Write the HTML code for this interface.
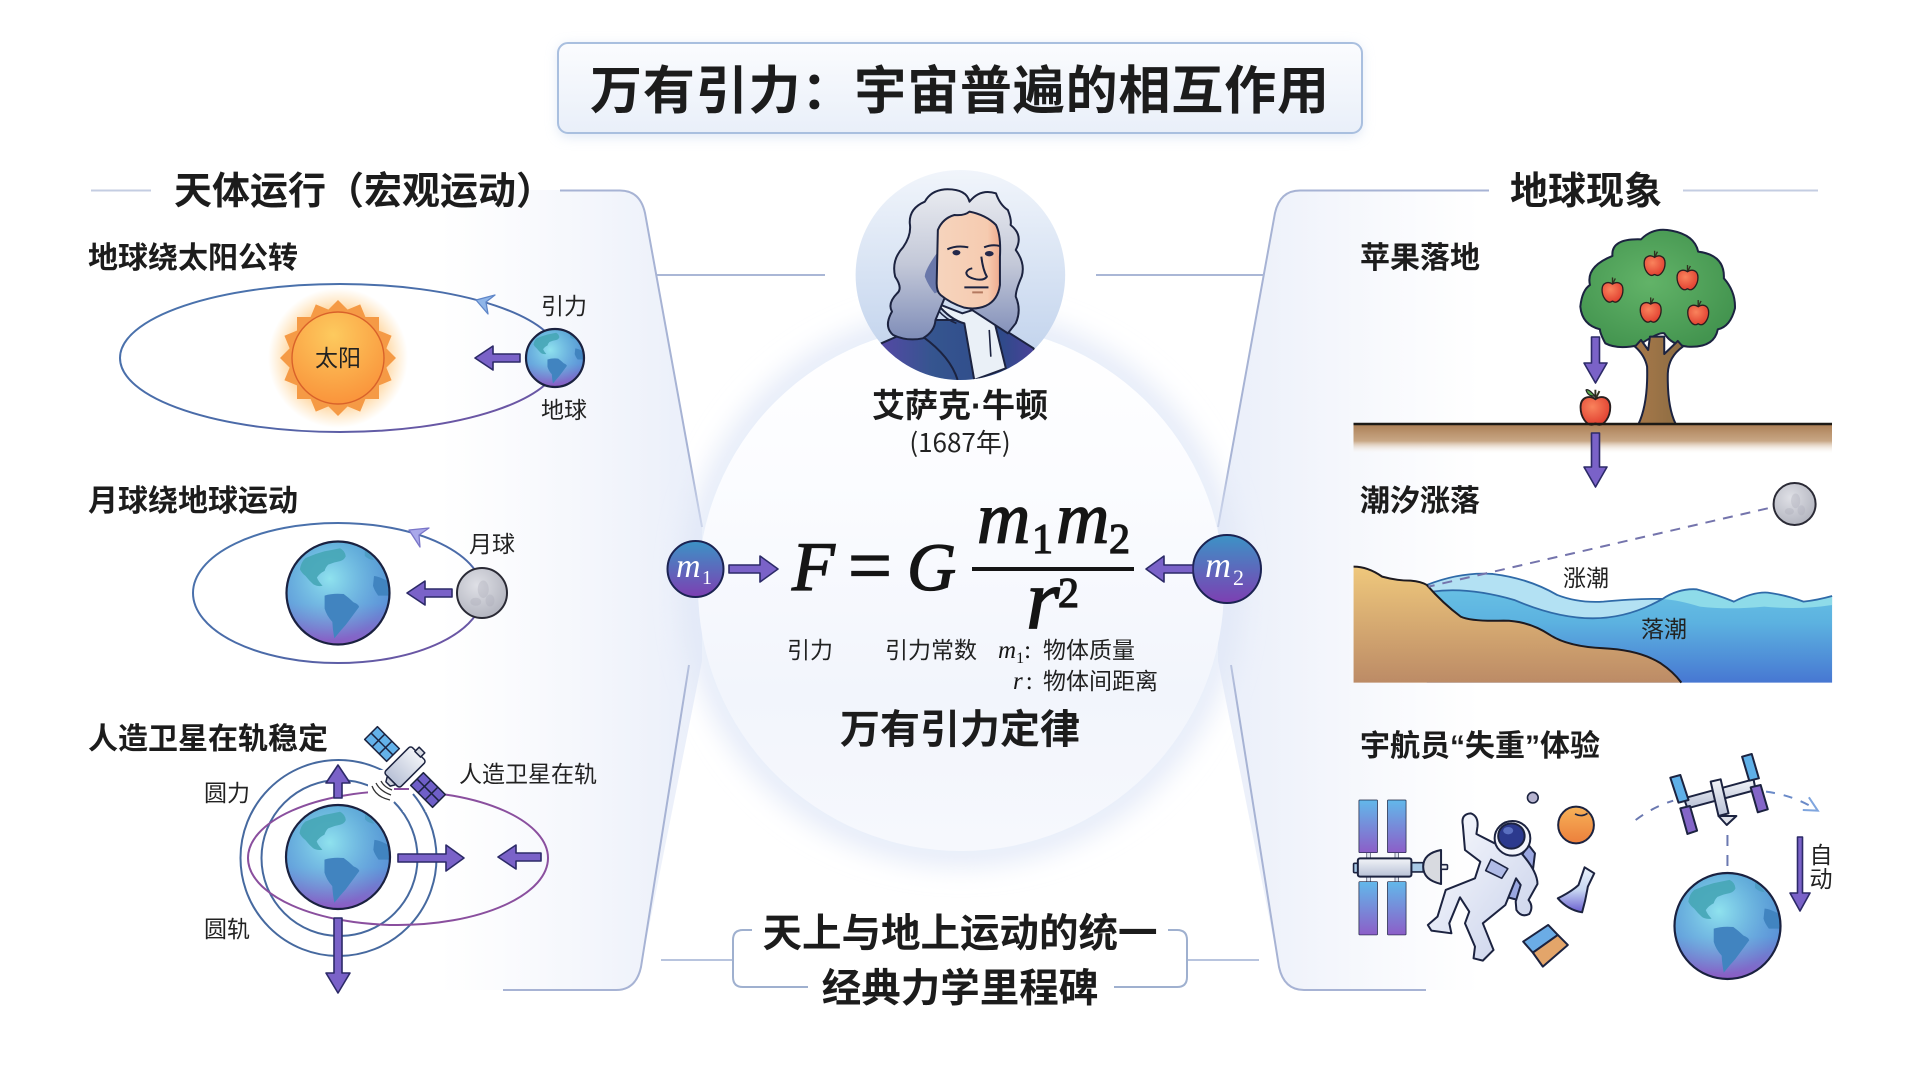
<!DOCTYPE html>
<html lang="zh">
<head>
<meta charset="utf-8">
<title>万有引力：宇宙普遍的相互作用</title>
<style>
html,body{margin:0;padding:0;background:#fff;width:1920px;height:1072px;overflow:hidden}
svg{display:block}
text{font-family:"Liberation Sans","Noto Sans CJK SC",sans-serif;fill:#222}
.cjk{font-family:"Noto Sans CJK SC","Liberation Sans",sans-serif}
.lat{font-family:"Liberation Sans",sans-serif}
.b{font-weight:700;fill:#1c1c1c}
.l{font-size:23px}
.h2{font-size:30px;font-weight:700;fill:#1c1c1c}
.s{font-family:"Liberation Serif",serif;fill:#151515}
.i{font-style:italic}
.ar{fill:#7a62c8;stroke:#2c2a68;stroke-width:1.6;stroke-linejoin:round}
.o{stroke:#1c2340;fill:none;stroke-width:2;vector-effect:non-scaling-stroke}
.k{stroke:#1c2340;stroke-width:2;vector-effect:non-scaling-stroke;stroke-linejoin:round}
.k1{stroke:#1c2340;stroke-width:1.6;vector-effect:non-scaling-stroke;stroke-linejoin:round}
</style>
</head>
<body>
<svg width="1920" height="1072" viewBox="0 0 1920 1072" xmlns="http://www.w3.org/2000/svg">
<defs>
<linearGradient id="pL" gradientUnits="userSpaceOnUse" x1="440" y1="0" x2="705" y2="0"><stop offset="0" stop-color="#eef1fa" stop-opacity="0"/><stop offset="1" stop-color="#e9eef9"/></linearGradient>
<linearGradient id="pR" gradientUnits="userSpaceOnUse" x1="1480" y1="0" x2="1215" y2="0"><stop offset="0" stop-color="#eef1fa" stop-opacity="0"/><stop offset="1" stop-color="#e9eef9"/></linearGradient>
<linearGradient id="cF" x1="0" y1="0" x2="0" y2="1"><stop offset="0" stop-color="#fff"/><stop offset=".3" stop-color="#fbfcff"/><stop offset=".7" stop-color="#f2f5fc"/><stop offset="1" stop-color="#f6f8fd"/></linearGradient>
<linearGradient id="tF" x1="0" y1="0" x2="0" y2="1"><stop offset="0" stop-color="#fbfcfe"/><stop offset="1" stop-color="#e9eff9"/></linearGradient>
<filter id="bl" x="-30%" y="-30%" width="160%" height="160%"><feGaussianBlur stdDeviation="14"/></filter>
<filter id="bs" x="-10%" y="-40%" width="120%" height="180%"><feGaussianBlur stdDeviation="6"/></filter>
<linearGradient id="orb" x1="0" y1="0" x2="1" y2="1"><stop offset="0" stop-color="#4a74ad"/><stop offset=".6" stop-color="#4a6aa8"/><stop offset="1" stop-color="#7d4aa2"/></linearGradient>
<radialGradient id="sunG"><stop offset=".6" stop-color="#ffb14d" stop-opacity=".7"/><stop offset="1" stop-color="#ffc56e" stop-opacity="0"/></radialGradient>
<radialGradient id="sunD" cx=".45" cy=".25" r=".85"><stop offset="0" stop-color="#fdca5e"/><stop offset="1" stop-color="#f98d37"/></radialGradient>
<linearGradient id="eB" x1="0" y1="0" x2="0" y2="1"><stop offset="0" stop-color="#4f97d0"/><stop offset=".6" stop-color="#5c93d8"/><stop offset="1" stop-color="#8c5cc4"/></linearGradient>
<radialGradient id="eL" cx=".42" cy=".36" r=".6"><stop offset="0" stop-color="#8fe2ee"/><stop offset="1" stop-color="#7bcce8" stop-opacity="0"/></radialGradient>
<clipPath id="eC"><circle r="100"/></clipPath>
<g id="earth">
<circle r="100" fill="url(#eB)"/>
<circle r="100" fill="url(#eL)"/>
<g clip-path="url(#eC)">
<path d="M-74 -46 Q-72 -60 -63 -68 Q-45 -76 -26 -81 Q-10 -84 4 -87 Q14 -82 15 -71 Q12 -64 4 -62 Q-8 -60 -19 -55 Q-24 -50 -26 -43 Q-36 -38 -41 -30 Q-38 -22 -30 -14 Q-40 -12 -48 -17 Q-56 -24 -63 -33 Q-70 -38 -74 -46Z" fill="#46a6b6" opacity=".9"/>
<path d="M-26 5 Q-10 0 11 2 Q22 10 30 18 Q40 22 41 27 Q30 42 15 62 Q4 74 -7 88 Q-10 74 -11 56 Q-22 44 -26 30 Z" fill="#4184c0"/>
<path d="M70 -33 Q82 -32 102 -20 L102 5 L78 5 Q70 -6 68 -14Z" fill="#4184c0"/>
<path d="M52 -84 Q62 -78 70 -64 Q60 -64 52 -72 Z" fill="#4a9cc0" opacity=".8"/>
</g>
<circle r="100" fill="none" stroke="#1a2140" stroke-width="2.2" vector-effect="non-scaling-stroke"/>
</g>
<radialGradient id="mG" cx=".4" cy=".35" r=".75"><stop offset="0" stop-color="#dfe0e6"/><stop offset="1" stop-color="#aeb0bb"/></radialGradient>
<g id="moon">
<circle r="100" fill="url(#mG)" stroke="#2a2a35" stroke-width="2" vector-effect="non-scaling-stroke"/>
<ellipse cx="5" cy="-15" rx="22" ry="35" fill="#a4a6b2" opacity=".3"/>
<ellipse cx="-25" cy="35" rx="22" ry="16" fill="#a4a6b2" opacity=".3"/>
<ellipse cx="32" cy="30" rx="18" ry="24" fill="#a4a6b2" opacity=".28"/>
</g>
<linearGradient id="mm" x1="0" y1="0" x2="0" y2="1"><stop offset="0" stop-color="#3c93c6"/><stop offset="1" stop-color="#7d3fb2"/></linearGradient>
<linearGradient id="face" x1="0" y1="0" x2="1" y2="0"><stop offset="0" stop-color="#f6d4bd"/><stop offset=".8" stop-color="#f6cbb0"/><stop offset="1" stop-color="#efab8e"/></linearGradient>
<linearGradient id="hair" x1="0" y1="0" x2="0" y2="1"><stop offset="0" stop-color="#e9ebf0"/><stop offset=".5" stop-color="#c3c8d8"/><stop offset="1" stop-color="#7f8db8"/></linearGradient>
<linearGradient id="pbg" x1="0" y1="0" x2="0" y2="1"><stop offset="0" stop-color="#f1f5fb"/><stop offset="1" stop-color="#bccfeb"/></linearGradient>
<linearGradient id="coat" x1="0" y1="0" x2="1" y2="0"><stop offset="0" stop-color="#5a46a8"/><stop offset=".35" stop-color="#35558f"/><stop offset=".75" stop-color="#2f4a8a"/><stop offset="1" stop-color="#533f9e"/></linearGradient>
<clipPath id="pcl"><ellipse cx="785" cy="345" rx="265" ry="315"/></clipPath>
<radialGradient id="crown" cx=".45" cy=".45" r=".6"><stop offset="0" stop-color="#62b368"/><stop offset="1" stop-color="#43944f"/></radialGradient>
<linearGradient id="trunk" x1="0" y1="0" x2="1" y2="0"><stop offset="0" stop-color="#a8794a"/><stop offset="1" stop-color="#8b6c42"/></linearGradient>
<radialGradient id="apG" cx=".4" cy=".35" r=".7"><stop offset="0" stop-color="#f9835c"/><stop offset="1" stop-color="#e03c2e"/></radialGradient>
<g id="apple">
<path d="M0 -15 Q0 -11 0 -8" stroke="#30301f" stroke-width="1.4" fill="none"/>
<path d="M0 -8 L3 -14" stroke="#30301f" stroke-width="1.4" fill="none"/>
<path d="M0 -8 C-4 -11 -11 -10 -11 -2 C-11 6 -6 11 -3 11 C-1 11 -1 10 0 10 C1 10 1 11 3 11 C6 11 11 6 11 -2 C11 -10 4 -11 0 -8Z" fill="url(#apG)" stroke="#2a1f1f" stroke-width="1.4"/>
</g>
<linearGradient id="gnd" x1="0" y1="0" x2="0" y2="1"><stop offset="0" stop-color="#ad8158"/><stop offset=".55" stop-color="#c8a785"/><stop offset="1" stop-color="#fff" stop-opacity="0"/></linearGradient>
<linearGradient id="sand" x1="0" y1="0" x2="0" y2="1"><stop offset="0" stop-color="#efc87c"/><stop offset="1" stop-color="#bc8b66"/></linearGradient>
<linearGradient id="water" x1="0" y1="0" x2="0" y2="1"><stop offset="0" stop-color="#6cc6e6"/><stop offset=".45" stop-color="#5cb2e0"/><stop offset="1" stop-color="#4777d2"/></linearGradient>
<linearGradient id="pan" x1="0" y1="0" x2="0" y2="1"><stop offset="0" stop-color="#62b8ea"/><stop offset="1" stop-color="#8c5ec8"/></linearGradient>
<linearGradient id="gray" x1="0" y1="0" x2="0" y2="1"><stop offset="0" stop-color="#f2f4f8"/><stop offset="1" stop-color="#b8c1d6"/></linearGradient>
<linearGradient id="suit" x1="0" y1="0" x2="1" y2="1"><stop offset="0" stop-color="#fbfcff"/><stop offset="1" stop-color="#c6cfe9"/></linearGradient>
<linearGradient id="orange" x1="0" y1="0" x2="0" y2="1"><stop offset="0" stop-color="#f7b258"/><stop offset="1" stop-color="#ec7f3c"/></linearGradient>
<linearGradient id="flask" x1="0" y1="0" x2="0" y2="1"><stop offset="0" stop-color="#eaf2fb"/><stop offset=".5" stop-color="#c8d8f2"/><stop offset="1" stop-color="#6a5ed0"/></linearGradient>
</defs>

<rect width="1920" height="1072" fill="#fff"/>

<!-- panels -->
<path d="M440 190H620Q640 190 645 213L702 527V661L641 967Q636 990 616 990H440Z" fill="url(#pL)"/>
<path d="M1480 190H1300Q1280 190 1275 213L1218 527V661L1279 967Q1284 990 1304 990H1480Z" fill="url(#pR)"/>
<path d="M560 190.5H620Q640 190.5 645 213L702 527" fill="none" stroke="#a7b3d4" stroke-width="2"/>
<path d="M689 665L641 967Q636 990 616 990H503" fill="none" stroke="#a7b3d4" stroke-width="2"/>
<path d="M1489 190.5H1300Q1280 190.5 1275 213L1218 527" fill="none" stroke="#a7b3d4" stroke-width="2"/>
<path d="M1231 665L1279 967Q1284 990 1304 990H1426" fill="none" stroke="#a7b3d4" stroke-width="2"/>
<line x1="91" y1="190.5" x2="151" y2="190.5" stroke="#c4cde2" stroke-width="2"/>
<line x1="1683" y1="190.5" x2="1818" y2="190.5" stroke="#c4cde2" stroke-width="2"/>
<line x1="657" y1="275" x2="825" y2="275" stroke="#aab7d6" stroke-width="2"/>
<line x1="1096" y1="275" x2="1264" y2="275" stroke="#aab7d6" stroke-width="2"/>
<line x1="661" y1="960" x2="733" y2="960" stroke="#b8c4de" stroke-width="2"/>
<line x1="1187" y1="960" x2="1259" y2="960" stroke="#b8c4de" stroke-width="2"/>

<!-- central circle -->
<circle cx="961" cy="588" r="263" fill="none" stroke="#e0e7f7" stroke-width="26" filter="url(#bl)"/>
<circle cx="961" cy="588" r="263" fill="url(#cF)"/>

<!-- title -->
<rect x="558" y="45" width="804" height="92" rx="10" fill="#c6d5ee" opacity=".55" filter="url(#bs)"/>
<rect x="558" y="43" width="804" height="90" rx="10" fill="url(#tF)" stroke="#a9bfdf" stroke-width="2"/>
<text x="590" y="109" class="b cjk" font-size="52" textLength="739">万有引力：宇宙普遍的相互作用</text>

<text x="174" y="204" class="b cjk" font-size="38">天体运行（宏观运动）</text>
<text x="1510" y="204" class="b cjk" font-size="38">地球现象</text>

<!-- Sun / earth -->
<text x="88" y="268" class="h2 cjk">地球绕太阳公转</text>
<ellipse cx="340" cy="358" rx="220" ry="74" fill="none" stroke="url(#orb)" stroke-width="2"/>
<circle cx="338" cy="358" r="70" fill="url(#sunG)"/>
<g fill="#f59a45">
<rect x="297" y="317" width="82" height="82"/>
<rect x="297" y="317" width="82" height="82" transform="rotate(22.5 338 358)"/>
<rect x="297" y="317" width="82" height="82" transform="rotate(45 338 358)"/>
<rect x="297" y="317" width="82" height="82" transform="rotate(67.5 338 358)"/>
</g>
<circle cx="338" cy="358" r="46" fill="url(#sunD)" stroke="#d9622a" stroke-width="1.4"/>
<text x="338" y="366" text-anchor="middle" class="l cjk">太阳</text>
<polygon points="476,300 495,295 486,302 488,314" fill="#8fb5e8" stroke="#5f86c8" stroke-width="1.3" stroke-linejoin="round"/>
<path class="ar" d="M520 354H493V346L475 358L493 370V362H520Z"/>
<use href="#earth" transform="translate(555 358) scale(.29)"/>
<text x="564" y="314" text-anchor="middle" class="l cjk">引力</text>
<text x="564" y="418" text-anchor="middle" class="l cjk">地球</text>

<!-- Moon / earth -->
<text x="88" y="511" class="h2 cjk">月球绕地球运动</text>
<ellipse cx="338" cy="593" rx="145" ry="70" fill="none" stroke="url(#orb)" stroke-width="2"/>
<use href="#earth" transform="translate(338 593) scale(.515)"/>
<polygon points="409,530 429,528 419,535 420,547" fill="#a9a8ea" stroke="#7a76c8" stroke-width="1.3" stroke-linejoin="round"/>
<path class="ar" d="M452 589H425V581L407 593L425 605V597H452Z"/>
<use href="#moon" transform="translate(482 593) scale(.25)"/>
<text x="492" y="552" text-anchor="middle" class="l cjk">月球</text>

<!-- Satellite -->
<text x="88" y="749" class="h2 cjk">人造卫星在轨稳定</text>
<circle cx="338.5" cy="858" r="98" fill="none" stroke="#46699f" stroke-width="2"/>
<circle cx="339.5" cy="858" r="78" fill="none" stroke="#46699f" stroke-width="2"/>
<ellipse cx="398" cy="858" rx="150" ry="67" fill="none" stroke="#8a4f9e" stroke-width="2"/>
<path d="M368 770L440 770L440 812L392 812L368 800Z" fill="#fff"/>
<line x1="394" y1="789" x2="409" y2="789" stroke="#8a4f9e" stroke-width="2"/>
<path d="M413 794A98 98 0 0 1 425 812" fill="none" stroke="#46699f" stroke-width="2"/>
<path d="M394 802A78 78 0 0 1 402.5 812" fill="none" stroke="#46699f" stroke-width="2"/>
<path d="M372 786Q376 797 390 800M376 783Q380 791 391 795M381 781Q384 787 392 790" fill="none" stroke="#333" stroke-width="1.3"/>
<use href="#earth" transform="translate(338 857) scale(.52)"/>
<path class="ar" d="M334 798V783H326L338 765L350 783H342V798Z"/>
<path class="ar" d="M334 918V973H326L338 993L350 973H342V918Z"/>
<path class="ar" d="M398 854H446V845L464 858L446 871V862H398Z"/>
<path class="ar" d="M541 853H516V845L498 857L516 869V861H541Z"/>
<g transform="translate(405 767) rotate(45)" stroke="#1c2340" stroke-width="1.5" stroke-linejoin="round">
<rect x="-48" y="-9" width="31" height="18" fill="#64b2ea"/>
<path d="M-37.500 -9V9M-27.500 -9V9M-48 0H-17" fill="none"/>
<rect x="17" y="-9" width="31" height="18" fill="#6f5fc8"/>
<path d="M27.500 -9V9M37.500 -9V9M17 0H48" fill="none"/>
<rect x="-11" y="-19" width="22" height="38" rx="3" fill="url(#gray)"/>
<rect x="-4" y="-24" width="8" height="6" fill="#d8dbe3"/>
<path d="M-6 19H6L3 24H-3Z" fill="#cfd3dd"/>
</g>
<text x="227" y="801" text-anchor="middle" class="l cjk">圆力</text>
<text x="227" y="937" text-anchor="middle" class="l cjk">圆轨</text>
<text x="459" y="782" class="l cjk">人造卫星在轨</text>

<!-- Portrait -->
<g transform="translate(650 160) scale(.3954 .3333)">
<ellipse cx="785" cy="345" rx="265" ry="315" fill="url(#pbg)"/>
<g clip-path="url(#pcl)">
<path class="k" d="M585 550L720 480L780 480L870 490L970 565L1000 680L560 680Z" fill="url(#coat)"/>
<path class="k" d="M690 530Q760 590 778 660" fill="none"/>
<path class="k" d="M725 430Q760 480 795 490L820 660L900 625L870 480L870 430L790 460Z" fill="#eaf0f7"/>
<path d="M858 510L862 590M728 450Q750 480 775 490" class="k1" fill="none"/>
<path class="k" d="M808 125Q800 85 745 88Q710 92 695 125Q655 145 657 190Q662 225 640 262Q610 300 620 350Q640 385 625 400Q600 430 612 455Q590 500 615 525Q650 545 690 535Q720 515 722 480L750 400L905 520L925 490Q940 450 925 410Q925 390 940 350Q950 310 925 270Q945 225 912 195Q915 180 905 150Q885 135 875 100Q835 85 808 125Z" fill="url(#hair)"/>
<path d="M725 280Q695 330 695 350Q705 380 720 400L760 380Z" fill="#6a78aa"/>
<path class="k" d="M728 210Q740 175 770 165Q795 168 808 155Q850 165 875 195Q888 225 885 290V375Q880 420 850 437Q825 450 795 443Q760 430 735 405Q725 395 725 370Z" fill="url(#face)"/>
<path class="k" d="M752 268Q775 255 805 262M845 262Q865 252 885 258" fill="none"/>
<ellipse cx="775" cy="278" rx="10" ry="8" fill="#23284a"/>
<ellipse cx="858" cy="281" rx="11" ry="8" fill="#23284a"/>
<path class="k" d="M838 290Q842 330 852 350Q845 362 825 358Q800 352 800 338Q802 328 815 325" fill="none"/>
<path class="k" d="M795 382H856" fill="none"/>
<path d="M815 397H842" stroke="#b4795f" stroke-width="2" vector-effect="non-scaling-stroke"/>
</g>
</g>
<text x="960" y="417" text-anchor="middle" class="b cjk" font-size="33">艾萨克<tspan class="lat">·</tspan>牛顿</text>
<text x="960" y="452" text-anchor="middle" class="cjk" font-size="26">(1687年)</text>

<!-- Formula -->
<circle cx="695.5" cy="569" r="28" fill="url(#mm)" stroke="#1b2352" stroke-width="2"/>
<text x="676" y="577" class="s i" font-size="34" style="fill:#fff">m</text>
<text x="702" y="584" class="s" font-size="20" style="fill:#fff">1</text>
<circle cx="1227" cy="569" r="34" fill="url(#mm)" stroke="#1b2352" stroke-width="2"/>
<text x="1205" y="577" class="s i" font-size="36" style="fill:#fff">m</text>
<text x="1233" y="585" class="s" font-size="22" style="fill:#fff">2</text>
<path class="ar" d="M729 565H760V556L778 569L760 582V573H729Z"/>
<path class="ar" d="M1193 565H1164V556L1146 569L1164 582V573H1193Z"/>
<g stroke="#151515" stroke-width="1.3">
<text x="792" y="590" class="s i" font-size="70">F</text>
<text x="848" y="592" class="s" font-size="78">=</text>
<text x="907" y="590" class="s i" font-size="68">G</text>
<text x="977" y="543" class="s i" font-size="74">m</text>
<text x="1032" y="553" class="s" font-size="42">1</text>
<text x="1056" y="543" class="s i" font-size="74">m</text>
<text x="1109" y="553" class="s" font-size="42">2</text>
<text x="1026" y="628" class="s i" font-size="86">r</text>
<text x="1058" y="607" class="s" font-size="42">2</text>
</g>
<rect x="972" y="567" width="162" height="4" fill="#151515"/>
<text x="810" y="658" text-anchor="middle" class="l cjk">引力</text>
<text x="885" y="658" class="l cjk">引力常数</text>
<text x="998" y="658" class="s i" font-size="25">m<tspan font-size="16" font-style="normal" dy="5">1</tspan><tspan font-style="normal" dy="-5">:</tspan></text>
<text x="1043" y="658" class="l cjk">物体质量</text>
<text x="1013" y="689" class="s i" font-size="25">r<tspan font-style="normal" dx="3">:</tspan></text>
<text x="1043" y="689" class="l cjk">物体间距离</text>
<text x="960" y="743" text-anchor="middle" class="b cjk" font-size="40">万有引力定律</text>

<!-- bottom box -->
<path d="M752 930H743Q733 930 733 940V977Q733 987 743 987H808" fill="none" stroke="#9fb0cf" stroke-width="2"/>
<path d="M1168 930H1177Q1187 930 1187 940V977Q1187 987 1177 987H1114" fill="none" stroke="#9fb0cf" stroke-width="2"/>
<text x="960" y="947" text-anchor="middle" class="b cjk" font-size="39.500">天上与地上运动的统一</text>
<text x="960" y="1002" text-anchor="middle" class="b cjk" font-size="39.500">经典力学里程碑</text>

<!-- Apple section -->
<text x="1360" y="268" class="h2 cjk">苹果落地</text>
<rect x="1353.500" y="425" width="478.500" height="29" fill="url(#gnd)"/>
<g transform="translate(1300 170) scale(.3571 .3333)">
<path class="k" d="M785 410Q790 360 812 345Q800 290 875 258Q870 205 955 208Q990 170 1040 182Q1105 195 1115 245Q1190 255 1187 325Q1220 365 1218 415Q1205 470 1170 478Q1160 535 1085 530Q1040 525 1020 490Q1005 485 950 525Q890 540 855 520Q840 490 840 478Q790 465 785 410Z" fill="url(#crown)"/>
<path class="k" d="M948 762Q975 700 972 590Q965 555 938 530L955 510L975 540L980 500H1020V552L1058 513L1072 530Q1032 560 1030 610Q1028 710 1052 762Z" fill="url(#trunk)"/>
</g>
<use href="#apple" transform="translate(1612.500 291.700) scale(.95)"/>
<use href="#apple" transform="translate(1654.600 265) scale(.95)"/>
<use href="#apple" transform="translate(1687.500 279.300) scale(.95)"/>
<use href="#apple" transform="translate(1650.700 311.700) scale(.95)"/>
<use href="#apple" transform="translate(1698.200 314.300) scale(.95)"/>
<use href="#apple" transform="translate(1595.400 410) scale(1.350)"/>
<path d="M1595 396Q1588 388 1586 390Q1588 397 1595 396Z" fill="#5aa84f" stroke="#222" stroke-width="1.200"/>
<line x1="1353.500" y1="424" x2="1832" y2="424" stroke="#1d1a16" stroke-width="2.400"/>
<path class="ar" d="M1591.500 337V363H1584L1595.500 383L1607 363H1599.500V337Z"/>
<path class="ar" d="M1591.500 433V467H1584L1595.500 487L1607 467H1599.500V433Z"/>

<!-- Tide section -->
<text x="1360" y="511" class="h2 cjk">潮汐涨落</text>
<use href="#moon" transform="translate(1794.600 504) scale(.21)"/>
<g transform="translate(1300 170) scale(.3571 .3333)">
<path d="M355 1245Q450 1205 540 1212Q640 1225 720 1275Q780 1300 850 1295Q950 1285 1015 1285Q1060 1255 1110 1258Q1170 1275 1215 1295Q1270 1265 1310 1268Q1360 1275 1410 1295Q1450 1290 1490 1278V1538H355Z" fill="url(#water)"/>
<path d="M355 1245Q450 1205 540 1212Q640 1225 720 1275Q780 1300 850 1295Q950 1285 1015 1287Q920 1345 820 1345Q720 1345 600 1290Q470 1250 370 1265Z" fill="#b3e1f3"/>
<path d="M1015 1287Q1060 1255 1110 1258Q1170 1275 1215 1295Q1270 1265 1310 1268Q1360 1275 1410 1295Q1450 1290 1490 1278V1305Q1400 1320 1300 1310Q1200 1320 1120 1310Q1060 1290 1015 1287Z" fill="#8edbe9"/>
<path d="M355 1245Q450 1205 540 1212Q640 1225 720 1275Q780 1300 850 1295Q950 1285 1015 1287Q1060 1255 1110 1258Q1170 1275 1215 1295Q1270 1265 1310 1268Q1360 1275 1410 1295Q1450 1290 1490 1278" fill="none" stroke="#2f6aa8" stroke-width="1.800" vector-effect="non-scaling-stroke"/>
<path d="M370 1265Q470 1250 600 1290Q720 1345 820 1345Q920 1345 1015 1287" fill="none" stroke="#2f6aa8" stroke-width="1.800" vector-effect="non-scaling-stroke"/>
<path d="M150 1190Q190 1190 230 1220Q270 1232 310 1232Q340 1235 355 1245Q400 1300 450 1340Q480 1355 570 1352Q640 1352 700 1395Q750 1430 850 1435Q950 1440 1010 1480Q1045 1505 1068 1538H150Z" fill="url(#sand)"/>
<path d="M150 1190Q190 1190 230 1220Q270 1232 310 1232Q340 1235 355 1245Q400 1300 450 1340Q480 1355 570 1352Q640 1352 700 1395Q750 1430 850 1435Q950 1440 1010 1480Q1045 1505 1068 1538" fill="none" stroke="#1d1a20" stroke-width="2" vector-effect="non-scaling-stroke"/>
<line x1="1310" y1="1015" x2="360" y2="1250" stroke="#7474ac" stroke-width="2" stroke-dasharray="10 8" vector-effect="non-scaling-stroke"/>
</g>
<text x="1586" y="586" text-anchor="middle" class="l cjk">涨潮</text>
<text x="1664" y="637" text-anchor="middle" class="l cjk">落潮</text>

<!-- Astronaut section -->
<text x="1360" y="756" class="h2 cjk">宇航员<tspan class="lat">“</tspan>失重<tspan class="lat">”</tspan>体验</text>
<g transform="translate(1300 710) scale(.3571 .3333)">
<!-- left station -->
<g fill="#dfe4ef" class="k1"><rect x="187" y="428" width="10" height="20"/><rect x="266" y="428" width="10" height="20"/><rect x="187" y="498" width="10" height="20"/><rect x="266" y="498" width="10" height="20"/></g>
<g fill="url(#pan)" class="k"><rect x="165" y="270" width="52" height="158" rx="2"/><rect x="245" y="270" width="52" height="158" rx="2"/><rect x="165" y="515" width="52" height="160" rx="2"/><rect x="245" y="515" width="52" height="160" rx="2"/></g>
<rect x="150" y="460" width="15" height="28" rx="3" fill="#a8c9e6" class="k1"/>
<rect x="310" y="458" width="35" height="28" fill="#a8c9e6" class="k1"/>
<rect x="162" y="445" width="150" height="55" rx="6" fill="url(#gray)" class="k"/>
<path d="M395 420Q345 430 345 470Q345 510 395 522Z" fill="#d8dae0" class="k"/>
<rect x="395" y="464" width="18" height="14" rx="3" fill="#eef0f5" class="k1"/>
<!-- astronaut -->
<path d="M640 405L658 430L650 500L610 570L575 560L600 470Z" fill="#9aa7e0" class="k"/>
<path class="k" d="M456 345Q450 312 478 310Q500 318 497 350L494 372L545 400L620 430Q665 485 665 522L640 570Q655 590 642 612Q620 624 606 600L604 575L618 525L605 505L575 585L512 640L542 720L512 752L486 745L490 710L462 640L474 605L448 562L418 640L424 670L368 662L358 645L385 620L408 540L490 505L505 455L462 420Z" fill="url(#suit)"/>
<path d="M535 448L582 476L565 505L520 482Z" fill="#b0bbe6" class="k1"/>
<ellipse cx="595" cy="385" rx="50" ry="52" fill="#f3f5fb" class="k"/>
<ellipse cx="592" cy="378" rx="37" ry="38" fill="#2c3a8e" class="k"/>
<ellipse cx="583" cy="362" rx="14" ry="11" fill="#5a6fc0"/>
<!-- items -->
<ellipse cx="652" cy="263" rx="15" ry="16" fill="#b6b3cf" class="k1"/>
<ellipse cx="773" cy="345" rx="50" ry="55" fill="url(#orange)" class="k"/>
<path d="M770 312Q790 322 805 310" fill="none" class="k1"/>
<path d="M797 472L824 490L806 530Q800 570 790 607Q750 600 722 565Q760 545 780 525Z" fill="url(#flask)" class="k"/>
<polygon points="625,695 695,645 722,675 652,728" fill="#6bace6" class="k"/>
<polygon points="652,728 722,675 750,705 680,770" fill="#e3a56a" class="k"/>
<!-- top right station -->
<path d="M940 330Q990 290 1045 272" fill="none" stroke="#6a78b0" stroke-width="2" stroke-dasharray="9 9" vector-effect="non-scaling-stroke"/>
<path d="M1305 245Q1380 255 1445 298" fill="none" stroke="#6a8ac8" stroke-width="2" stroke-dasharray="9 9" vector-effect="non-scaling-stroke"/>
<path d="M1425 262L1450 302L1408 300" fill="none" stroke="#7fa5de" stroke-width="2" vector-effect="non-scaling-stroke"/>
<line x1="1197" y1="375" x2="1197" y2="472" stroke="#6a78b0" stroke-width="2" stroke-dasharray="11 9" vector-effect="non-scaling-stroke"/>
<polygon points="1075,265 1270,208 1276,240 1085,295" fill="url(#gray)" class="k"/>
<polygon points="1037,203 1065,195 1088,270 1060,278" fill="#5fb0e8" class="k"/>
<polygon points="1065,295 1092,288 1112,362 1085,372" fill="#8466c8" class="k"/>
<polygon points="1238,140 1265,132 1285,205 1258,212" fill="#5fb0e8" class="k"/>
<polygon points="1262,232 1290,225 1310,298 1282,307" fill="#8466c8" class="k"/>
<polygon points="1150,215 1178,208 1200,310 1172,318" fill="url(#gray)" class="k"/>
<polygon points="1172,318 1222,318 1195,345" fill="#dfe2ea" class="k"/>
</g>
<use href="#earth" transform="translate(1727.500 926) scale(.53)"/>
<path class="ar" d="M1797.500 837V893H1790L1800 911L1810 893H1802.500V837Z"/>
<text x="1821" y="863" text-anchor="middle" class="l cjk">自</text>
<text x="1821" y="887" text-anchor="middle" class="l cjk">动</text>
</svg>
</body>
</html>
